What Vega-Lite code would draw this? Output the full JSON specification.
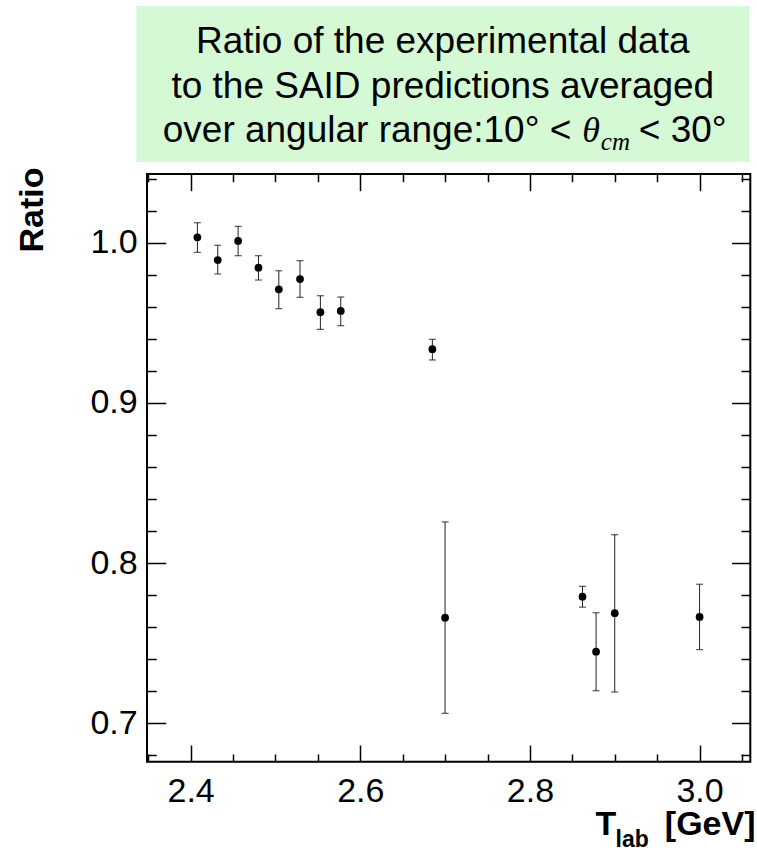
{
  "$schema": "https://vega.github.io/schema/vega-lite/v6.json",
  "padding": {"left": 15, "top": 6, "right": 0, "bottom": 0},
  "background": "white",
  "bounds": "flush",
  "spacing": 12,
  "config": {"font": "Liberation Sans"},
  "datasets": {
    "lines": [
      {"line": 1, "text": "Ratio of the experimental data"},
      {"line": 2, "text": "to the SAID predictions averaged"}
    ],
    "box": [{"line": 3}],
    "points": [
      {"T": 2.408, "R": 1.0034, "lo": 0.994, "hi": 1.0125},
      {"T": 2.432, "R": 0.9892, "lo": 0.9805, "hi": 0.9984},
      {"T": 2.456, "R": 1.0011, "lo": 0.9919, "hi": 1.0102},
      {"T": 2.48, "R": 0.9844, "lo": 0.9767, "hi": 0.9919},
      {"T": 2.504, "R": 0.9709, "lo": 0.9588, "hi": 0.9825},
      {"T": 2.529, "R": 0.9773, "lo": 0.9659, "hi": 0.9888},
      {"T": 2.553, "R": 0.9566, "lo": 0.9459, "hi": 0.9669},
      {"T": 2.577, "R": 0.9574, "lo": 0.9482, "hi": 0.9661},
      {"T": 2.685, "R": 0.9335, "lo": 0.9268, "hi": 0.9397},
      {"T": 2.7, "R": 0.7659, "lo": 0.7062, "hi": 0.8257},
      {"T": 2.862, "R": 0.779, "lo": 0.7725, "hi": 0.7855},
      {"T": 2.878, "R": 0.7447, "lo": 0.7203, "hi": 0.769},
      {"T": 2.9, "R": 0.7687, "lo": 0.7195, "hi": 0.8177},
      {"T": 3.0, "R": 0.7664, "lo": 0.746, "hi": 0.7868}
    ]
  },
  "vconcat": [
    {
      "width": 603.3,
      "height": 156,
      "view": {"stroke": null},
      "layer": [
        {
          "data": {"name": "box"},
          "mark": {"type": "rect", "color": "#d4f9d4", "clip": false},
          "encoding": {
            "x": {"datum": -0.0177, "type": "quantitative", "scale": {"domain": [0, 1]}, "axis": null},
            "x2": {"datum": 0.9983},
            "y": {"datum": -0.0562, "type": "quantitative", "scale": {"domain": [-0.0562, 3.4494], "reverse": true}, "axis": null},
            "y2": {"datum": 3.4494}
          }
        },
        {
          "data": {"name": "lines"},
          "mark": {"type": "text", "fontSize": 37, "align": "center", "baseline": "alphabetic", "color": "black", "font": "Liberation Sans"},
          "encoding": {
            "x": {"datum": 0.4903, "type": "quantitative", "scale": {"domain": [0, 1]}, "axis": null},
            "y": {"field": "line", "type": "quantitative", "scale": {"domain": [-0.0562, 3.4494], "reverse": true}, "axis": null},
            "text": {"field": "text"}
          }
        },
        {
          "data": {"name": "box"},
          "mark": {"type": "text", "fontSize": 37, "align": "right", "baseline": "alphabetic", "color": "black", "font": "Liberation Sans"},
          "encoding": {
            "x": {"datum": 0.7033, "type": "quantitative", "scale": {"domain": [0, 1]}, "axis": null},
            "y": {"field": "line", "type": "quantitative", "scale": {"domain": [-0.0562, 3.4494], "reverse": true}, "axis": null},
            "text": {"value": "over angular range:10° <"}
          }
        },
        {
          "data": {"name": "box"},
          "mark": {"type": "text", "fontSize": 36, "align": "left", "baseline": "alphabetic", "color": "black", "font": "Liberation Serif", "fontStyle": "italic"},
          "encoding": {
            "x": {"datum": 0.7216, "type": "quantitative", "scale": {"domain": [0, 1]}, "axis": null},
            "y": {"field": "line", "type": "quantitative", "scale": {"domain": [-0.0562, 3.4494], "reverse": true}, "axis": null},
            "text": {"value": "θ"}
          }
        },
        {
          "data": {"name": "box"},
          "mark": {"type": "text", "fontSize": 25, "align": "left", "baseline": "alphabetic", "dy": 8, "color": "black", "font": "Liberation Serif", "fontStyle": "italic"},
          "encoding": {
            "x": {"datum": 0.7522, "type": "quantitative", "scale": {"domain": [0, 1]}, "axis": null},
            "y": {"field": "line", "type": "quantitative", "scale": {"domain": [-0.0562, 3.4494], "reverse": true}, "axis": null},
            "text": {"value": "cm"}
          }
        },
        {
          "data": {"name": "box"},
          "mark": {"type": "text", "fontSize": 37, "align": "left", "baseline": "alphabetic", "color": "black", "font": "Liberation Sans"},
          "encoding": {
            "x": {"datum": 0.8152, "type": "quantitative", "scale": {"domain": [0, 1]}, "axis": null},
            "y": {"field": "line", "type": "quantitative", "scale": {"domain": [-0.0562, 3.4494], "reverse": true}, "axis": null},
            "text": {"value": "< 30°"}
          }
        }
      ]
    },
    {
      "width": 603.3,
      "height": 587.7,
      "view": {"stroke": "black", "strokeWidth": 2},
      "data": {"name": "points"},
      "resolve": {"axis": {"x": "independent", "y": "independent"}},
      "layer": [
        {
          "mark": {"type": "rule", "color": "#222222", "strokeWidth": 1},
          "encoding": {
            "x": {"field": "T", "type": "quantitative", "scale": {"domain": [2.3486, 3.0598]},
              "axis": {"orient": "top", "values": [2.35, 2.4, 2.45, 2.5, 2.55, 2.6, 2.65, 2.7, 2.75, 2.8, 2.85, 2.9, 2.95, 3.0, 3.05],
                "labels": false, "domain": false, "grid": false, "title": null, "tickColor": "black", "tickWidth": 1.5,
                "tickSize": {"condition": {"test": "abs(datum.value*5 - round(datum.value*5)) < 0.001", "value": -16.7}, "value": -7.7}}},
            "y": {"field": "lo", "type": "quantitative", "scale": {"domain": [0.676, 1.0429]},
              "axis": {"orient": "right", "values": [0.68, 0.7, 0.72, 0.74, 0.76, 0.78, 0.8, 0.82, 0.84, 0.86, 0.88, 0.9, 0.92, 0.94, 0.96, 0.98, 1.0, 1.02, 1.04],
                "labels": false, "domain": false, "grid": false, "title": null, "tickColor": "black", "tickWidth": 1.5,
                "tickSize": {"condition": {"test": "abs(datum.value*10 - round(datum.value*10)) < 0.001", "value": -18.7}, "value": -9.3}}},
            "y2": {"field": "hi"}
          }
        },
        {
          "mark": {"type": "tick", "orient": "horizontal", "color": "#111111", "size": 7, "thickness": 1.2},
          "encoding": {
            "x": {"field": "T", "type": "quantitative", "scale": {"domain": [2.3486, 3.0598]},
              "axis": {"orient": "bottom", "ticks": false, "labels": false, "domain": false, "grid": false,
                "title": "lab", "titleFont": "Liberation Sans", "titleFontSize": 23, "titleFontWeight": "bold", "titleColor": "black",
                "titleAlign": "left", "titleBaseline": "alphabetic", "titleAngle": 0, "titleX": 468, "titleY": 84.5}},
            "y": {"field": "lo", "type": "quantitative", "scale": {"domain": [0.676, 1.0429]}, "axis": null}
          }
        },
        {
          "mark": {"type": "tick", "orient": "horizontal", "color": "#111111", "size": 7, "thickness": 1.2},
          "encoding": {
            "x": {"field": "T", "type": "quantitative", "scale": {"domain": [2.3486, 3.0598]},
              "axis": {"orient": "bottom", "ticks": false, "labels": false, "domain": false, "grid": false,
                "title": "[GeV]", "titleFont": "Liberation Sans", "titleFontSize": 34, "titleFontWeight": "bold", "titleColor": "black",
                "titleAlign": "right", "titleBaseline": "alphabetic", "titleAngle": 0, "titleX": 608, "titleY": 73.3}},
            "y": {"field": "hi", "type": "quantitative", "scale": {"domain": [0.676, 1.0429]}, "axis": null}
          }
        },
        {
          "mark": {"type": "point", "filled": true, "shape": "circle", "size": 60, "color": "black", "opacity": 1},
          "encoding": {
            "x": {"field": "T", "type": "quantitative", "scale": {"domain": [2.3486, 3.0598]},
              "axis": {"orient": "bottom", "values": [2.35, 2.4, 2.45, 2.5, 2.55, 2.6, 2.65, 2.7, 2.75, 2.8, 2.85, 2.9, 2.95, 3.0, 3.05],
                "labelExpr": "abs(datum.value*5 - round(datum.value*5)) < 0.001 ? format(datum.value, '.1f') : ''",
                "labelFont": "Liberation Sans", "labelFontSize": 34, "labelColor": "black", "labelPadding": 29.3,
                "labelOverlap": false, "labelFlush": false, "labelBound": false,
                "domain": false, "grid": false, "tickColor": "black", "tickWidth": 1.5,
                "tickSize": {"condition": {"test": "abs(datum.value*5 - round(datum.value*5)) < 0.001", "value": -16.7}, "value": -7.7},
                "title": "T", "titleFont": "Liberation Sans", "titleFontSize": 34, "titleFontWeight": "bold", "titleColor": "black",
                "titleAlign": "left", "titleBaseline": "alphabetic", "titleAngle": 0, "titleX": 448, "titleY": 73.3}},
            "y": {"field": "R", "type": "quantitative", "scale": {"domain": [0.676, 1.0429]},
              "axis": {"orient": "left", "values": [0.68, 0.7, 0.72, 0.74, 0.76, 0.78, 0.8, 0.82, 0.84, 0.86, 0.88, 0.9, 0.92, 0.94, 0.96, 0.98, 1.0, 1.02, 1.04],
                "labelExpr": "abs(datum.value*10 - round(datum.value*10)) < 0.001 ? format(datum.value, '.1f') : ''",
                "labelFont": "Liberation Sans", "labelFontSize": 34, "labelColor": "black", "labelPadding": 28.5,
                "labelOverlap": false, "labelFlush": false, "labelBound": false,
                "domain": false, "grid": false, "tickColor": "black", "tickWidth": 1.5,
                "tickSize": {"condition": {"test": "abs(datum.value*10 - round(datum.value*10)) < 0.001", "value": -18.7}, "value": -9.3},
                "title": "Ratio", "titleFont": "Liberation Sans", "titleFontSize": 34, "titleFontWeight": "bold", "titleColor": "black",
                "titleAlign": "right", "titleBaseline": "middle", "titleAngle": -90, "titleX": -114, "titleY": -7}}
          }
        }
      ]
    }
  ]
}
